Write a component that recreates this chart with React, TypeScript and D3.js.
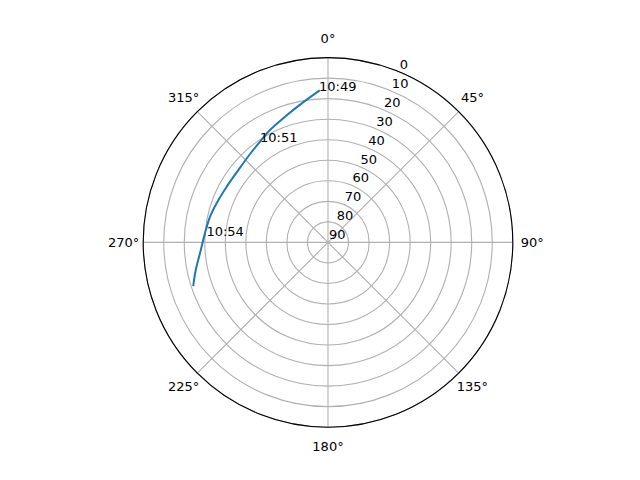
import React, { useEffect, useRef } from 'react';
import * as d3 from 'd3';

// sky track: azimuth (deg, clockwise from north) and elevation (deg)
const trackAz = [356.6, 349.3, 341.1, 332.7, 326.0, 318.6, 308.9, 298.8, 289.4, 282.3, 274.2, 265.1, 258.2, 252.4];
const trackEl = [16.1, 21.1, 25.3, 28.4, 30.8, 32.6, 33.9, 33.7, 32.5, 31.2, 29.9, 27.4, 24.2, 21.2];

// time annotations along the track
const labelTimes = ['10:49', '10:51', '10:54'];
const labelAz = [356.6, 326.0, 273.0];
const labelEl = [16.1, 30.8, 30.7];

const thetaTicks = [0, 45, 90, 135, 180, 225, 270, 315];
const elevTicks = [0, 10, 20, 30, 40, 50, 60, 70, 80, 90];

const App: React.FC = () => {
  const svgRef = useRef<SVGSVGElement>(null);

  useEffect(() => {
    if (!svgRef.current) return;
    const width = 640;
    const height = 480;
    const cx = 328;
    const cy = 242.4;
    const R = 184.8;
    const font = 'DejaVu Sans, sans-serif';

    const svg = d3.select(svgRef.current);
    svg.selectAll('*').remove();
    svg.attr('width', width).attr('height', height);
    svg.append('rect').attr('width', width).attr('height', height).attr('fill', '#fff');

    const r = d3.scaleLinear().domain([90, 0]).range([0, R]);
    const rad = (deg: number) => (deg * Math.PI) / 180;
    const px = (az: number, el: number) => r(el) * Math.sin(rad(az));
    const py = (az: number, el: number) => -r(el) * Math.cos(rad(az));

    const g = svg.append('g').attr('transform', `translate(${cx},${cy})`);

    // grid circles
    g.selectAll('circle.grid')
      .data(elevTicks.filter(e => e < 90))
      .enter().append('circle')
      .attr('class', 'grid')
      .attr('r', d => r(d))
      .attr('fill', 'none')
      .attr('stroke', '#b0b0b0')
      .attr('stroke-width', 1.1);

    // spokes
    g.selectAll('line.spoke')
      .data(thetaTicks)
      .enter().append('line')
      .attr('class', 'spoke')
      .attr('x1', 0).attr('y1', 0)
      .attr('x2', d => px(d, 0))
      .attr('y2', d => py(d, 0))
      .attr('stroke', '#b0b0b0')
      .attr('stroke-width', 1.1);

    // outer spine
    g.append('circle')
      .attr('r', R)
      .attr('fill', 'none')
      .attr('stroke', '#000')
      .attr('stroke-width', 1.1);

    // theta labels
    g.selectAll('text.theta')
      .data(thetaTicks)
      .enter().append('text')
      .attr('class', 'theta')
      .attr('x', d => (R + 19.5) * Math.sin(rad(d)))
      .attr('y', d => -(R + 19.5) * Math.cos(rad(d)))
      .attr('text-anchor', 'middle')
      .attr('dominant-baseline', 'central')
      .style('font-family', font)
      .style('font-size', '13px')
      .text(d => `${d}°`);

    // radial labels
    g.selectAll('text.rlabel')
      .data(elevTicks)
      .enter().append('text')
      .attr('class', 'rlabel')
      .attr('x', d => px(22.5, d) + 1)
      .attr('y', d => py(22.5, d) - 3)
      .attr('text-anchor', 'start')
      .style('font-family', font)
      .style('font-size', '13px')
      .text(d => `${d}`);

    // track
    const pts = trackAz.map((az, i) => [az, trackEl[i]] as [number, number]);
    const line = d3.lineRadial<[number, number]>()
      .angle(d => rad(d[0]))
      .radius(d => r(d[1]))
      .curve(d3.curveCatmullRom);
    g.append('path')
      .attr('d', line(pts))
      .attr('fill', 'none')
      .attr('stroke', '#1f77b4')
      .attr('stroke-width', 2)
      .attr('stroke-linejoin', 'round')
      .attr('stroke-linecap', 'square');

    // time annotations
    g.selectAll('text.time')
      .data(labelTimes)
      .enter().append('text')
      .attr('class', 'time')
      .attr('x', (d, i) => px(labelAz[i], labelEl[i]))
      .attr('y', (d, i) => py(labelAz[i], labelEl[i]))
      .attr('text-anchor', 'start')
      .style('font-family', font)
      .style('font-size', '13px')
      .text(d => d);
  }, []);

  return (
    <svg ref={svgRef} style={{ position: 'absolute', left: 0, top: 0, display: 'block' }}></svg>
  );
};

export default App;
